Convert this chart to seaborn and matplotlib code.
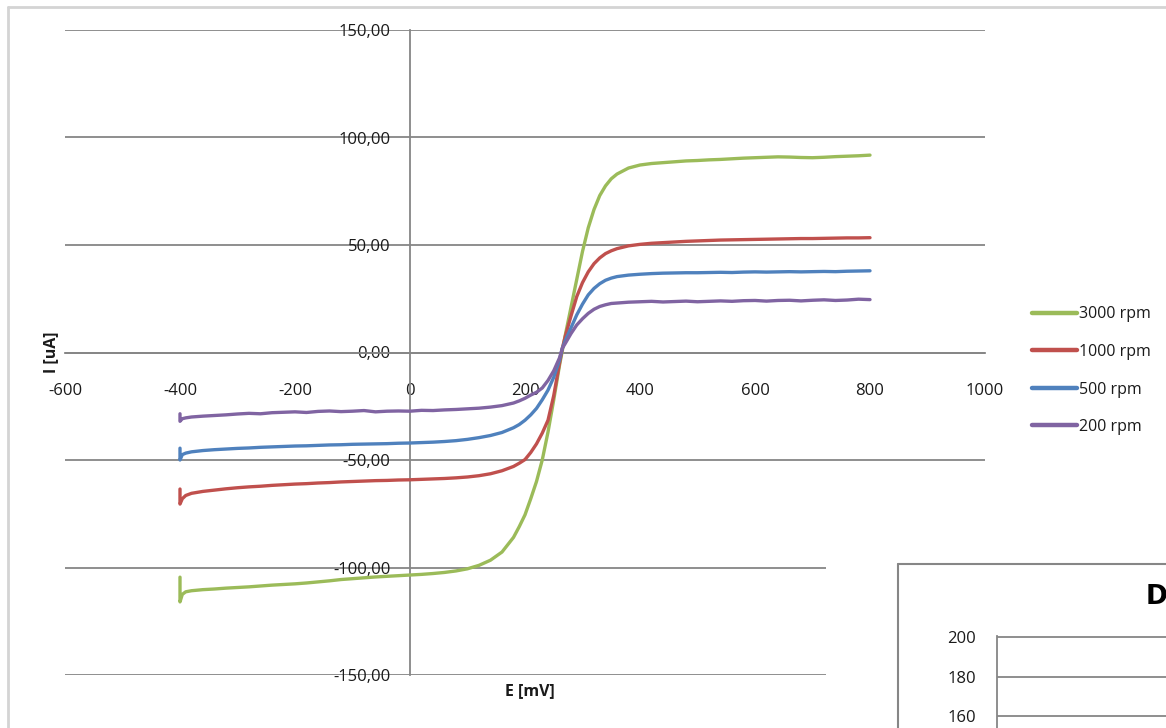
import numpy as np
import pandas as pd
import matplotlib
matplotlib.use("Agg")
import matplotlib.pyplot as plt
from matplotlib.patches import Rectangle
from matplotlib.lines import Line2D
from matplotlib.ticker import FuncFormatter, FixedLocator
import seaborn as sns

# Potential sweep (mV); the first two points form the start-up transient at -400 mV
E_mV = [-400, -400, -396, -390, -380, -360, -340, -320, -300, -280, -260, -240, -220,
        -200, -180, -160, -140, -120, -100, -80, -60, -40, -20, 0, 20, 40, 60, 80, 100,
        120, 140, 160, 180, 190, 200, 210, 220, 230, 240, 250, 260, 265, 270, 280, 290,
        300, 310, 320, 330, 340, 350, 360, 380, 400, 420, 440, 460, 480, 500, 520, 540,
        560, 580, 600, 620, 640, 660, 680, 700, 720, 740, 760, 780, 800]

# Current (uA) for each rotation rate
I_3000 = [-104.5, -116.0, -112.5, -111.3, -110.8, -110.3, -110.0, -109.6, -109.3, -109.0,
          -108.6, -108.2, -107.9, -107.6, -107.2, -106.7, -106.2, -105.6, -105.2, -104.8,
          -104.4, -104.1, -103.8, -103.5, -103.2, -102.8, -102.3, -101.6, -100.6, -99.0,
          -96.6, -92.8, -86.0, -81.0, -75.5, -68.0, -60.0, -50.0, -37.0, -22.0, -6.0,
          1.0, 8.0, 21.0, 34.0, 47.0, 58.0, 66.5, 73.0, 77.5, 80.8, 83.0, 85.8, 87.2,
          87.9, 88.3, 88.7, 89.1, 89.3, 89.6, 89.8, 90.1, 90.4, 90.6, 90.8, 91.0, 90.9,
          90.7, 90.6, 90.8, 91.1, 91.3, 91.5, 91.8]

I_1000 = [-63.5, -70.5, -68.0, -66.5, -65.5, -64.6, -64.0, -63.4, -62.9, -62.5, -62.2,
          -61.8, -61.5, -61.2, -61.0, -60.7, -60.5, -60.2, -60.0, -59.8, -59.6, -59.5,
          -59.3, -59.2, -59.0, -58.8, -58.6, -58.3, -57.9, -57.3, -56.4, -55.0, -53.0,
          -51.5, -49.8, -46.5, -42.5, -37.5, -31.5, -20.0, -5.0, 2.0, 7.5, 17.0, 26.0,
          32.5, 37.5, 41.3, 44.0, 46.0, 47.3, 48.3, 49.6, 50.3, 50.8, 51.1, 51.4, 51.7,
          51.9, 52.1, 52.3, 52.4, 52.5, 52.6, 52.7, 52.8, 52.9, 53.0, 53.0, 53.1, 53.2,
          53.3, 53.3, 53.4]

I_500 = [-44.5, -50.0, -47.5, -46.8, -46.2, -45.6, -45.2, -44.9, -44.6, -44.4, -44.1,
         -43.9, -43.7, -43.5, -43.4, -43.2, -43.0, -42.9, -42.7, -42.6, -42.5, -42.4,
         -42.2, -42.1, -41.9, -41.7, -41.4, -41.0, -40.4, -39.6, -38.6, -37.2, -35.0,
         -33.5, -31.5, -29.0, -26.0, -22.0, -17.5, -11.5, -3.5, 2.0, 5.5, 11.5, 17.5,
         22.5, 26.8, 29.8, 32.0, 33.6, 34.6, 35.3, 36.0, 36.4, 36.7, 36.9, 37.0, 37.1,
         37.1, 37.2, 37.3, 37.2, 37.4, 37.5, 37.4, 37.5, 37.6, 37.5, 37.6, 37.7, 37.6,
         37.8, 37.9, 38.0]

I_200 = [-28.5, -32.0, -30.8, -30.4, -30.0, -29.6, -29.3, -29.0, -28.6, -28.3, -28.5,
         -28.0, -27.8, -27.6, -27.9, -27.4, -27.2, -27.5, -27.3, -27.0, -27.6, -27.3,
         -27.2, -27.3, -26.9, -27.0, -26.7, -26.5, -26.2, -25.9, -25.4, -24.7, -23.5,
         -22.5, -21.3, -19.8, -18.5, -16.5, -13.0, -8.5, -2.5, 2.0, 4.2, 8.8, 12.8,
         15.7, 18.2, 20.1, 21.4, 22.2, 22.8, 23.0, 23.4, 23.6, 23.8, 23.5, 23.7, 23.9,
         23.6, 23.8, 24.0, 23.8, 24.1, 24.2, 23.9, 24.2, 24.3, 24.0, 24.3, 24.5, 24.2,
         24.4, 24.8, 24.6]

series_names = ["3000 rpm", "1000 rpm", "500 rpm", "200 rpm"]
series_vals = [I_3000, I_1000, I_500, I_200]
series_colors = ["#9BBB59", "#C0504D", "#4F81BD", "#8064A2"]

x_ticks = [-600, -400, -200, 0, 200, 400, 600, 800, 1000]
y_ticks = [-150, -100, -50, 0, 50, 100, 150]
inset_y_ticks = [160, 180, 200]

rows = []
for name, vals in zip(series_names, series_vals):
    assert len(vals) == len(E_mV)
    for order, (e, i) in enumerate(zip(E_mV, vals)):
        rows.append({"E": e, "I": i, "series": name, "order": order})
df = pd.DataFrame(rows)

sns.set_style("white")
plt.rcParams["font.family"] = ["Open Sans", "DejaVu Sans"]
plt.rcParams["axes.unicode_minus"] = False

W, H = 1166, 728
fig = plt.figure(figsize=(W / 100, H / 100), dpi=100)
fig.patch.set_facecolor("white")

def fx(px):
    return px / W

def fy(py):
    return 1 - py / H

GRID = "#868686"
TEXT = "#1a1a1a"

# main plot area
left, right, top, bottom = 65, 985, 30, 675
ax = fig.add_axes([fx(left), fy(bottom), fx(right - left), (bottom - top) / H])
ax.set_facecolor("none")

sns.lineplot(data=df, x="E", y="I", hue="series", hue_order=series_names,
             palette=dict(zip(series_names, series_colors)), sort=False,
             estimator=None, units="series", linewidth=2.4, ax=ax, zorder=3)

ax.set_xlim(-600, 1000)
ax.set_ylim(-150, 150)
ax.xaxis.set_major_locator(FixedLocator(x_ticks))
ax.yaxis.set_major_locator(FixedLocator(y_ticks))
ax.yaxis.set_major_formatter(FuncFormatter(lambda v, p: f"{v:.2f}".replace(".", ",")))
ax.xaxis.set_major_formatter(FuncFormatter(lambda v, p: f"{int(v)}"))

ax.yaxis.grid(True, color=GRID, linewidth=1.3, zorder=1)
ax.xaxis.grid(False)
ax.set_axisbelow(True)

for s in ["top", "right"]:
    ax.spines[s].set_visible(False)
ax.spines["left"].set_position(("data", 0))
ax.spines["bottom"].set_position(("data", 0))
for s in ["left", "bottom"]:
    ax.spines[s].set_color(GRID)
    ax.spines[s].set_linewidth(1.3)

ax.tick_params(axis="x", direction="out", length=5, width=1.2, color=GRID,
               pad=17, labelsize=12, labelcolor=TEXT)
ax.tick_params(axis="y", length=0, pad=14, labelsize=12, labelcolor=TEXT)

ax.set_xlabel("E [mV]", fontsize=11.5, fontweight="bold", color=TEXT)
ax.set_ylabel("I [uA]", fontsize=11.5, fontweight="bold", color=TEXT)
ax.xaxis.set_label_coords((530 - left) / (right - left), -(683 - bottom) / (bottom - top))
ax.yaxis.set_label_coords((59 - left) / (right - left), 0.5)

handles = [Line2D([], [], color=c, linewidth=3.2) for c in series_colors]
leg = ax.legend(handles, series_names, loc="upper left", frameon=False,
                bbox_to_anchor=(fx(1026), fy(300)), bbox_transform=fig.transFigure,
                fontsize=11.5, handlelength=2.8, handletextpad=0.1, labelspacing=1.35,
                borderaxespad=0)
for t in leg.get_texts():
    t.set_color(TEXT)

# outer chart frame
fig.add_artist(Line2D([fx(8), 1], [fy(7), fy(7)], color="#d4d4d4", linewidth=2))
fig.add_artist(Line2D([fx(8), fx(8)], [fy(7), 0], color="#d4d4d4", linewidth=2))

# neighbouring chart in the lower right corner
fig.add_artist(Rectangle((fx(826), 0), 1 - fx(826), fy(527), transform=fig.transFigure,
                         facecolor="white", edgecolor="none", zorder=5))
fig.add_artist(Line2D([fx(898), 1], [fy(564), fy(564)], color=GRID, linewidth=1.5, zorder=6))
fig.add_artist(Line2D([fx(898), fx(898)], [fy(564), 0], color=GRID, linewidth=1.5, zorder=6))
fig.text(fx(1146), fy(597), "D", fontsize=19, fontweight="bold", ha="left", va="center",
         zorder=7, color="black", family=["DejaVu Sans"])

ax2 = fig.add_axes([fx(997), 0, 1 - fx(997) + 0.05, fy(636)])
ax2.set_zorder(7)
ax2.set_facecolor("none")
ax2.set_ylim(200 - (H - 636) / 40 * 20, 200.5)
ax2.set_xlim(0, 1)
ax2.yaxis.set_major_locator(FixedLocator(inset_y_ticks))
ax2.set_xticks([])
ax2.yaxis.grid(True, color=GRID, linewidth=1.3)
for s in ["top", "right", "bottom"]:
    ax2.spines[s].set_visible(False)
ax2.spines["left"].set_color(GRID)
ax2.spines["left"].set_linewidth(1.3)
ax2.tick_params(axis="y", direction="out", length=6, width=1.2, color=GRID, pad=9,
                labelsize=12, labelcolor=TEXT)

fig.savefig("out.png", dpi=100, facecolor="white")
